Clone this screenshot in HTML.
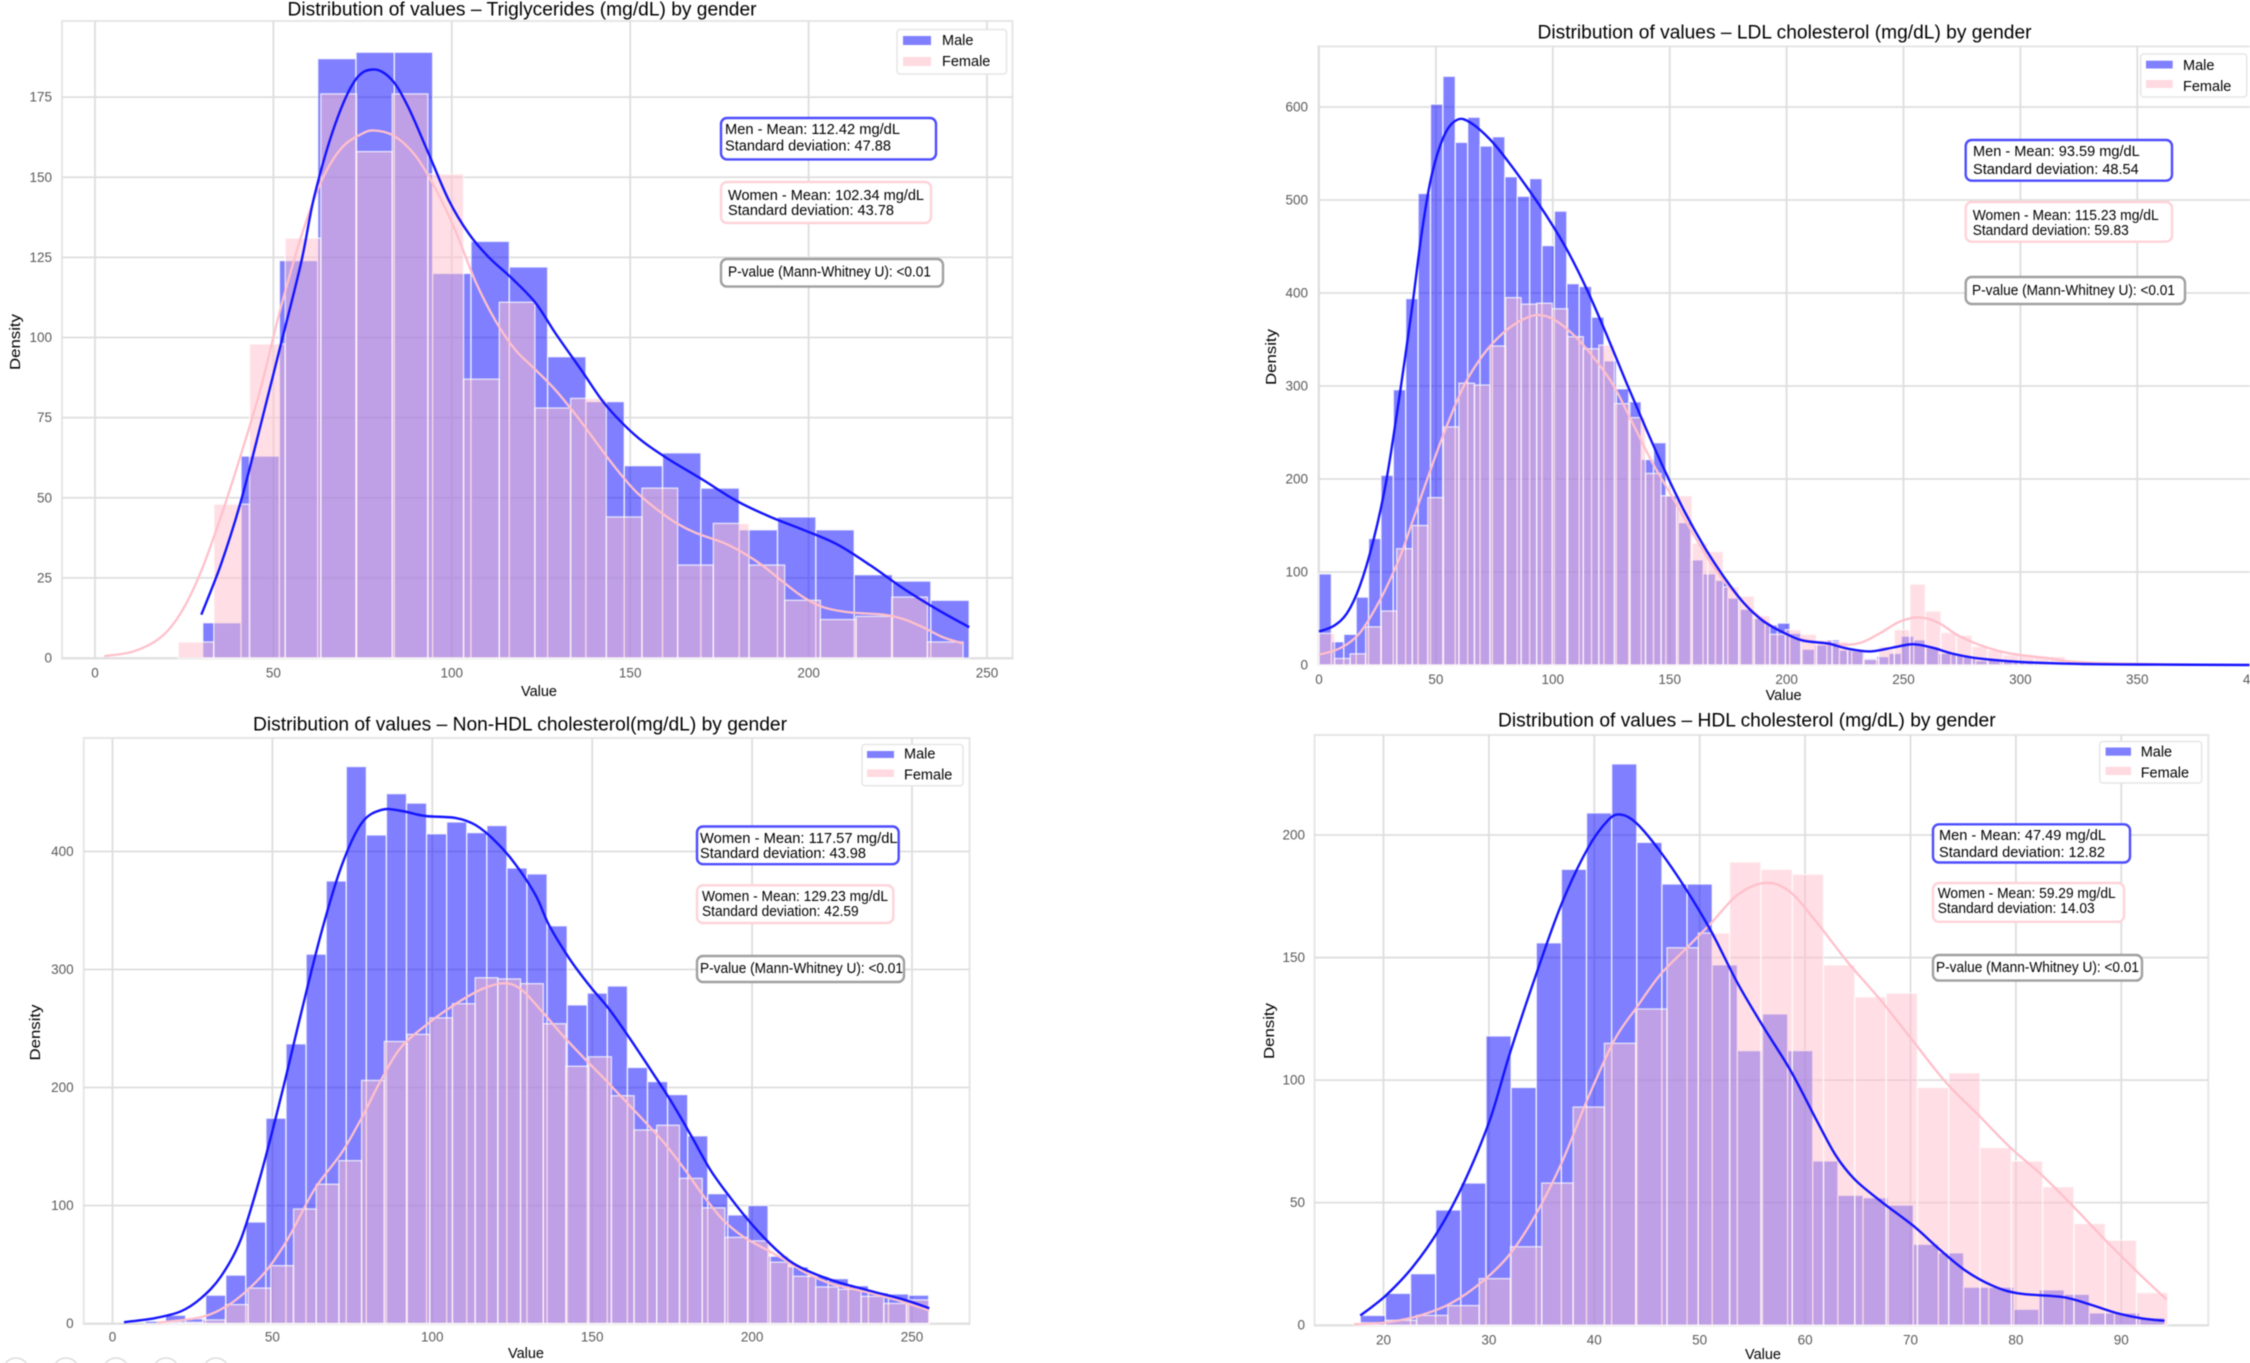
<!DOCTYPE html>
<html lang="en">
<head>
<meta charset="utf-8">
<title>Distribution of lipid values by gender</title>
<style>
html,body{margin:0;padding:0;background:#fff;width:2250px;height:1363px;overflow:hidden}
svg{display:block;filter:blur(.65px)}
text{font-family:"Liberation Sans",Arial,sans-serif;fill:#000;dominant-baseline:central}
text[y]:not(.tick){transform:translateY(1.2px)}
.title{font-size:19px;text-anchor:middle}
.axl{font-size:14.5px;text-anchor:middle}
.leg{font-size:14.5px}
.note{font-size:14.5px}
.tick{font-size:13.5px;fill:#595959}
.legbox{fill:#fff;stroke:#e6e6e6;stroke-width:1.5}
.sw-m{fill:#8080ff}
.sw-f{fill:#ffdbe1}
.b-m{fill:#fff;stroke:#4c4cff;stroke-width:2.4}
.b-f{fill:#fff;stroke:#ffd3da;stroke-width:2.4}
.b-p{fill:#fff;stroke:#a0a0a0;stroke-width:2.4}
</style>
</head>
<body>
<svg xmlns="http://www.w3.org/2000/svg" width="2250" height="1363" viewBox="0 0 2250 1363">
<rect width="2250" height="1363" fill="#fff"/>

<g>
  <g id="p1"></g>
  <text class="title" x="522" y="9" textLength="469" lengthAdjust="spacingAndGlyphs">Distribution of values – Triglycerides (mg/dL) by gender</text>
  <text class="axl" x="539" y="691">Value</text>
  <text class="axl" transform="translate(16 342) rotate(-90)" textLength="56" lengthAdjust="spacingAndGlyphs">Density</text>
  <g>
    <rect class="legbox" x="897" y="29.5" width="109.5" height="44.5" rx="3"/>
    <rect class="sw-m" x="903" y="36" width="28" height="9"/>
    <rect class="sw-f" x="903" y="57" width="28" height="9"/>
    <text class="leg" x="942" y="40">Male</text>
    <text class="leg" x="942" y="61">Female</text>
  </g>
  <rect class="b-m" x="721" y="118" width="215" height="41.4" rx="6"/>
  <text class="note" x="725" y="128.6" textLength="175" lengthAdjust="spacingAndGlyphs">Men - Mean: 112.42 mg/dL</text>
  <text class="note" x="725" y="145.5" textLength="166" lengthAdjust="spacingAndGlyphs">Standard deviation: 47.88</text>
  <rect class="b-f" x="721" y="182" width="210" height="41" rx="6"/>
  <text class="note" x="728" y="194.6" textLength="196" lengthAdjust="spacingAndGlyphs">Women - Mean: 102.34 mg/dL</text>
  <text class="note" x="728" y="210" textLength="166" lengthAdjust="spacingAndGlyphs">Standard deviation: 43.78</text>
  <rect class="b-p" x="721" y="259" width="222" height="27.6" rx="6"/>
  <text class="note" x="728" y="271.4" textLength="203" lengthAdjust="spacingAndGlyphs">P-value (Mann-Whitney U): &lt;0.01</text>
</g>

<g>
  <g id="p2"></g>
  <text class="title" x="1784.5" y="32" textLength="494" lengthAdjust="spacingAndGlyphs">Distribution of values – LDL cholesterol (mg/dL) by gender</text>
  <text class="axl" x="1783.6" y="695">Value</text>
  <text class="axl" transform="translate(1272 357) rotate(-90)" textLength="56" lengthAdjust="spacingAndGlyphs">Density</text>
  <g>
    <rect class="legbox" x="2140.7" y="54" width="106" height="43" rx="3"/>
    <rect class="sw-m" x="2146" y="60.7" width="26.7" height="7.8"/>
    <rect class="sw-f" x="2146" y="80" width="26.7" height="8"/>
    <text class="leg" x="2183" y="64.7">Male</text>
    <text class="leg" x="2183" y="85.7">Female</text>
  </g>
  <rect class="b-m" x="1965.7" y="140" width="206.3" height="40.7" rx="6"/>
  <text class="note" x="1973" y="151" textLength="166.7" lengthAdjust="spacingAndGlyphs">Men - Mean: 93.59 mg/dL</text>
  <text class="note" x="1973" y="169" textLength="165.7" lengthAdjust="spacingAndGlyphs">Standard deviation: 48.54</text>
  <rect class="b-f" x="1965.7" y="202" width="206.3" height="39.7" rx="6"/>
  <text class="note" x="1972.7" y="214.7" textLength="186" lengthAdjust="spacingAndGlyphs">Women - Mean: 115.23 mg/dL</text>
  <text class="note" x="1972.7" y="230" textLength="156" lengthAdjust="spacingAndGlyphs">Standard deviation: 59.83</text>
  <rect class="b-p" x="1965.7" y="277" width="219.3" height="27" rx="6"/>
  <text class="note" x="1972" y="290" textLength="203" lengthAdjust="spacingAndGlyphs">P-value (Mann-Whitney U): &lt;0.01</text>
</g>

<g>
  <g id="p3"></g>
  <text class="title" x="520" y="724" textLength="534" lengthAdjust="spacingAndGlyphs">Distribution of values – Non-HDL cholesterol(mg/dL) by gender</text>
  <text class="axl" x="526" y="1353">Value</text>
  <text class="axl" transform="translate(36 1032.5) rotate(-90)" textLength="56" lengthAdjust="spacingAndGlyphs">Density</text>
  <g>
    <rect class="legbox" x="862" y="744.5" width="101" height="41.2" rx="3"/>
    <rect class="sw-m" x="867" y="751" width="27" height="7"/>
    <rect class="sw-f" x="867" y="769.4" width="27" height="7.6"/>
    <text class="leg" x="904" y="753.5">Male</text>
    <text class="leg" x="904" y="774.5">Female</text>
  </g>
  <rect class="b-m" x="697" y="826.5" width="201.7" height="37.7" rx="6"/>
  <text class="note" x="700" y="837.6" textLength="197.6" lengthAdjust="spacingAndGlyphs">Women - Mean: 117.57 mg/dL</text>
  <text class="note" x="700" y="853" textLength="166" lengthAdjust="spacingAndGlyphs">Standard deviation: 43.98</text>
  <rect class="b-f" x="697" y="885.3" width="196.3" height="37.7" rx="6"/>
  <text class="note" x="702" y="896" textLength="186" lengthAdjust="spacingAndGlyphs">Women - Mean: 129.23 mg/dL</text>
  <text class="note" x="702" y="911" textLength="156.7" lengthAdjust="spacingAndGlyphs">Standard deviation: 42.59</text>
  <rect class="b-p" x="697" y="956" width="207" height="26" rx="6"/>
  <text class="note" x="700" y="968" textLength="203" lengthAdjust="spacingAndGlyphs">P-value (Mann-Whitney U): &lt;0.01</text>
</g>

<g>
  <g id="p4"></g>
  <text class="title" x="1746.8" y="720" textLength="497.6" lengthAdjust="spacingAndGlyphs">Distribution of values – HDL cholesterol (mg/dL) by gender</text>
  <text class="axl" x="1763" y="1354">Value</text>
  <text class="axl" transform="translate(1270 1031) rotate(-90)" textLength="56" lengthAdjust="spacingAndGlyphs">Density</text>
  <g>
    <rect class="legbox" x="2099.7" y="741.5" width="102" height="41.5" rx="3"/>
    <rect class="sw-m" x="2105.6" y="747.5" width="25.4" height="8.2"/>
    <rect class="sw-f" x="2105.6" y="766.8" width="25.4" height="8.2"/>
    <text class="leg" x="2140.7" y="751.4">Male</text>
    <text class="leg" x="2140.7" y="772.4">Female</text>
  </g>
  <rect class="b-m" x="1933" y="824.3" width="197" height="38.2" rx="6"/>
  <text class="note" x="1939" y="834.6" textLength="167" lengthAdjust="spacingAndGlyphs">Men - Mean: 47.49 mg/dL</text>
  <text class="note" x="1939" y="851.8" textLength="166" lengthAdjust="spacingAndGlyphs">Standard deviation: 12.82</text>
  <rect class="b-f" x="1933" y="883" width="191" height="38.8" rx="6"/>
  <text class="note" x="1937.7" y="892.6" textLength="178" lengthAdjust="spacingAndGlyphs">Women - Mean: 59.29 mg/dL</text>
  <text class="note" x="1937.7" y="907.6" textLength="157" lengthAdjust="spacingAndGlyphs">Standard deviation: 14.03</text>
  <rect class="b-p" x="1933" y="955" width="209" height="25.6" rx="6"/>
  <text class="note" x="1936" y="966.8" textLength="203" lengthAdjust="spacingAndGlyphs">P-value (Mann-Whitney U): &lt;0.01</text>
</g>

<g fill="none" stroke="#dcdcdc" stroke-width="1.5">
  <circle cx="16" cy="1371" r="13"/>
  <circle cx="66" cy="1371" r="13"/>
  <circle cx="116" cy="1371" r="13"/>
  <circle cx="166" cy="1371" r="13"/>
  <circle cx="216" cy="1371" r="13"/>
</g>
</svg>

<script>
// ---------- Triglycerides ----------
var tgXTicks = [0, 50, 100, 150, 200, 250];
var tgYTicks = [0, 25, 50, 75, 100, 125, 150, 175];
var tgMaleCounts = [11, 63, 124, 187, 189, 189, 120, 130, 122, 94, 80, 60, 64, 53, 40, 44, 40, 26, 24, 18];
var tgFemaleCounts = [5, 48, 98, 131, 176, 158, 176, 151, 87, 111, 78, 81, 44, 53, 29, 42, 29, 18, 12, 13, 19, 5];
var tgMaleKdeX = [29.8, 35.3, 40.9, 46.5, 52.2, 57.8, 61.5, 67.2, 72.8, 77.9, 83.1, 87.8, 93.4, 99.1, 104.7, 110.3, 116.9, 123.5, 129.1, 136.6, 142.2, 147.8, 153.5, 161, 170.4, 179.7, 189.1, 198.5, 207.9, 217.3, 226.6, 236, 245];
var tgMaleKdeY = [13.5, 28.5, 48, 73, 98, 125, 143, 168, 182, 184.6, 181.4, 173, 157.7, 142, 132, 125, 118.6, 111, 102, 88.5, 80, 73, 67.6, 62, 55.7, 48.7, 44, 40, 36, 29, 21.5, 15, 9.6];
var tgFemaleKdeX = [2.6, 10.9, 18.4, 24, 29.6, 35.3, 40.9, 46.5, 52.2, 57.8, 63.4, 69, 74.7, 78.4, 84, 89.7, 95.3, 100.9, 106.6, 112.2, 117.8, 123.5, 129, 134.7, 140.3, 146, 151.6, 157.2, 162.9, 168.5, 176, 181.6, 187.2, 192.9, 198.5, 204.1, 211.6, 221, 226.6, 232.3, 237.9, 243.5];
var tgFemaleKdeY = [0.6, 1.5, 6, 13, 25.7, 44, 63.4, 83, 111, 132, 150, 160, 164, 165, 163.5, 157.7, 147, 134.6, 116.5, 105, 95.5, 90, 84, 76, 67.6, 59, 51.5, 46.6, 41.8, 39, 36, 33, 29, 23.6, 18.7, 15.6, 14, 13.7, 12.4, 9.6, 6, 4.5];

// ---------- LDL ----------
var ldlXTicks = [0, 50, 100, 150, 200, 250, 300, 350, 400];
var ldlYTicks = [0, 100, 200, 300, 400, 500, 600];
var ldlMaleCounts = [98, 25, 33, 73, 136, 204, 296, 394, 507, 603, 633, 562, 589, 558, 568, 525, 504, 523, 451, 488, 410, 407, 374, 327, 297, 283, 221, 239, 182, 153, 113, 98, 91, 72, 60, 50, 43, 45, 34, 17, 21.5, 27, 16, 15, 7, 9, 12.5, 31, 27, 18.6, 12.5, 11.5, 9, 4.6, 6, 5.4, 3.6, 3, 2.5, 2, 1.5, 1.2, 1];
var ldlFemaleCounts = [34, 7, 12, 41, 58, 125, 150, 180, 256, 303, 301, 343, 395, 388, 389, 383, 353, 340, 344, 281, 266, 206, 182, 182, 131, 122, 84, 74, 53, 33, 38, 33, 27, 25, 16, 6, 20, 38, 87, 58, 35, 32, 20, 16, 11, 11, 9, 9, 5, 3, 2.5, 2, 1.5, 1, 0.8, 0.6, 0.5, 0.5, 0.5, 0.4];
var ldlMaleKdeX = [0, 6.4, 12, 17.5, 23.1, 28.7, 34.2, 39.8, 43.9, 48.1, 53.7, 59.2, 64.8, 73.2, 81.5, 89.8, 98.2, 106.5, 114.9, 123.2, 131.6, 139.9, 148.3, 156.6, 165, 173.3, 181.7, 190, 198.4, 206.7, 217.8, 226.2, 235.9, 245.6, 254, 262.3, 270.7, 281.8, 299.9, 323.5, 351.3, 398];
var ldlMaleKdeY = [36, 41, 53, 82, 130, 192, 283, 389, 466, 528, 576, 589, 586, 566, 540, 511, 480, 446, 403, 355, 302, 254, 206, 163, 125, 94, 65, 46, 35, 25, 24, 17, 13, 19, 24, 19, 12, 7, 3, 1, 0.5, 0];
var ldlFemaleKdeX = [0, 9.2, 17.5, 25.9, 34.2, 39.8, 45.3, 53.7, 62, 70.4, 78.7, 87, 94, 100.9, 109.3, 117.6, 126, 134.3, 142.6, 151, 159.3, 167.7, 176, 184.4, 192.7, 201, 212.2, 223.3, 231.6, 240, 248.3, 256.7, 265, 273.4, 284.5, 295.7, 312.3, 323.5, 351.3, 398];
var ldlFemaleKdeY = [11, 17, 31, 67, 115, 154, 187, 254, 303, 336, 358, 373, 378, 373, 355, 331, 303, 259, 216, 182, 144, 108, 81, 60, 43, 31, 24, 21, 22, 34, 48, 53, 47, 31, 19, 12, 7, 3, 1, 0];

// ---------- Non-HDL ----------
var nhXTicks = [0, 50, 100, 150, 200, 250];
var nhYTicks = [0, 100, 200, 300, 400];
var nhMaleCounts = [2, 7, 4, 24, 41, 86, 174, 237, 313, 375, 472, 414, 449, 441, 415, 425, 416, 422, 386, 381, 337, 270, 280, 286, 217, 205, 194, 159, 110, 92, 100, 57, 48, 40, 38, 32, 26, 25, 24];
var nhFemaleCounts = [1, 1, 3, 16, 30, 49, 97, 118, 138, 206, 239, 245, 259, 271, 293, 292, 288, 254, 218, 226, 193, 164, 168, 123, 98, 73, 70, 52, 40, 31, 29, 23, 17, 20];
var nhMaleKdeX = [3.6, 13, 21.4, 27.6, 33.9, 40.2, 46.4, 52.7, 59, 65.3, 71.6, 77.9, 84.2, 90.4, 97.8, 107.2, 113.5, 119.8, 126, 132.3, 136.5, 142.8, 149.1, 155.4, 161.7, 168, 174.2, 180.5, 186.8, 193.1, 199.4, 205.7, 212, 218.2, 226.6, 237.1, 247.6, 255.4];
var nhMaleKdeY = [1.1, 4, 9.5, 20, 38, 67, 125, 191, 264, 333, 391, 429, 437, 435, 429, 429.5, 424, 409, 391, 362, 339, 308, 286, 267, 242, 216, 191, 162, 129, 107, 85, 67, 51, 44, 35, 27.6, 20, 13];
var nhFemaleKdeX = [14, 27.6, 36, 42.3, 48.6, 54.9, 63.2, 71.6, 77.9, 84.2, 90.4, 98.8, 107.2, 115.6, 122.9, 128.1, 134.4, 140.7, 147, 153.3, 159.5, 165.8, 172.1, 178.4, 184.7, 191, 197.2, 203.5, 209.8, 216.1, 224.5, 234.9, 245.4, 255.4];
var nhFemaleKdeY = [0.7, 4, 15, 27.6, 46, 67, 118, 144, 173, 209, 236, 255, 271, 285, 290, 285, 264, 244, 226, 209, 191, 173, 155, 133, 108, 86, 73, 64, 55, 44, 33, 27.6, 20, 11];

// ---------- HDL ----------
var hdlXTicks = [20, 30, 40, 50, 60, 70, 80, 90];
var hdlYTicks = [0, 50, 100, 150, 200];
var hdlMaleCounts = [4, 13, 21, 47, 58, 118, 97, 156, 186, 209, 229, 197, 180, 180, 147, 112, 127, 112, 67, 53, 52, 49, 33, 29.5, 15.5, 15.5, 6.5, 14.4, 12.6, 5, 5, 3];
var hdlFemaleCounts = [1, 2, 4, 8, 19, 32, 58, 89, 115, 129, 154, 160, 189, 186, 184, 147, 134, 135.5, 97, 103, 72.5, 67, 56.5, 41.5, 34.7, 13.3];
var hdlMaleKdeX = [17.8, 20.2, 22.7, 25.2, 27.7, 30.1, 32, 34.5, 36.9, 39.4, 41.3, 42.5, 44, 46.2, 48.6, 51.1, 53.6, 56.1, 58.6, 61, 62.9, 64.7, 67.2, 70.3, 72.8, 75.2, 77.7, 80.2, 84.4, 86.9, 89.5, 91.9, 94.1];
var hdlMaleKdeY = [3.9, 11.4, 22.8, 37.6, 57.8, 84, 109.5, 144.5, 172.5, 197, 207.5, 209, 206.5, 194, 179, 161.5, 138.7, 121, 105.1, 83.2, 68.3, 59.5, 50.8, 40.3, 30.6, 21.9, 15.8, 12.6, 11.9, 8.8, 4.7, 2.6, 1.8];
var hdlFemaleKdeX = [17.2, 20.2, 23.3, 26.4, 29.5, 32, 34.4, 36.9, 39.4, 41.9, 44, 46.2, 48.6, 51.1, 53.6, 56.2, 58.5, 61, 64.1, 67.2, 70.3, 73.4, 76.5, 79.5, 82.6, 85.7, 88.8, 91.9, 94.3];
var hdlFemaleKdeY = [0.4, 0.7, 3.5, 7.9, 18.4, 28, 44, 65, 93, 119, 128.7, 143.6, 153, 163.7, 177, 181.8, 178.6, 166, 147, 133, 115.6, 98, 85.8, 71.8, 61.3, 47.3, 33.3, 19.3, 10.5];

var NS = 'http://www.w3.org/2000/svg';

function shape(tag, attrs) {
  var el = document.createElementNS(NS, tag);
  for (var k in attrs) { el.setAttribute(k, attrs[k]); }
  return el;
}

function smoothPath(xs, ys, sx, sy) {
  var raw = xs.map(function (v, i) { return [sx(v), sy(ys[i])]; });
  // Light neighbour averaging removes hand-reading jitter from the curve.
  var p = raw.map(function (q, i) {
    if (i === 0 || i === raw.length - 1) { return q; }
    return [q[0], (raw[i - 1][1] + 4 * q[1] + raw[i + 1][1]) / 6];
  });
  var d = 'M' + p[0][0].toFixed(1) + ' ' + p[0][1].toFixed(1);
  for (var i = 0; i < p.length - 1; i++) {
    var a = p[Math.max(i - 1, 0)], b = p[i], c = p[i + 1], e = p[Math.min(i + 2, p.length - 1)];
    d += 'C' + (b[0] + (c[0] - a[0]) / 6).toFixed(1) + ' ' + (b[1] + (c[1] - a[1]) / 6).toFixed(1) +
         ' ' + (c[0] - (e[0] - b[0]) / 6).toFixed(1) + ' ' + (c[1] - (e[1] - b[1]) / 6).toFixed(1) +
         ' ' + c[0].toFixed(1) + ' ' + c[1].toFixed(1);
  }
  return d;
}

function drawPanel(o) {
  var host = document.getElementById(o.id);
  var sx = function (v) { return o.x0 + (v - o.xRef) * o.xk; };
  var sy = function (v) { return o.y0 - v * o.yk; };

  var frame = shape('rect', { x: o.left, y: o.top, width: o.right - o.left, height: o.bottom - o.top, fill: '#fff', stroke: '#e6e6e6', 'stroke-width': 2 });
  
  
  host.appendChild(frame);

  o.xTicks.forEach(function (t) {
    var gl = shape('line', { x1: sx(t), x2: sx(t), y1: o.top, y2: o.bottom, stroke: '#dedede', 'stroke-width': 1.8 });
    
    
    host.appendChild(gl);
    var lb = shape('text', { x: sx(t), y: o.xLabelY, 'class': 'tick', 'text-anchor': 'middle' });
    
    
    lb.textContent = t;
    host.appendChild(lb);
  });

  o.yTicks.forEach(function (t) {
    var gl = shape('line', { x1: o.left, x2: o.right, y1: sy(t), y2: sy(t), stroke: '#dedede', 'stroke-width': 1.8 });
    
    
    host.appendChild(gl);
    var lb = shape('text', { x: o.yLabelX, y: sy(t), 'class': 'tick', 'text-anchor': 'end' });
    
    
    lb.textContent = t;
    host.appendChild(lb);
  });

  o.maleCounts.forEach(function (c, i) {
    var a = o.maleStart + i * o.maleWidth;
    var bar = shape('rect', { x: sx(a), y: sy(c), width: o.maleWidth * o.xk, height: c * o.yk, fill: '#0000ff', 'fill-opacity': 0.5, stroke: '#fff', 'stroke-opacity': 0.75, 'stroke-width': 1.4 });
    
    
    host.appendChild(bar);
  });

  o.femaleCounts.forEach(function (c, i) {
    var a = o.femaleStart + i * o.femaleWidth;
    var bar = shape('rect', { x: sx(a), y: sy(c), width: o.femaleWidth * o.xk, height: c * o.yk, fill: '#ffc0cb', 'fill-opacity': 0.5, stroke: '#fff', 'stroke-opacity': 0.7, 'stroke-width': 1.4 });
    
    
    host.appendChild(bar);
  });

  var fk = shape('path', { d: smoothPath(o.femaleKdeX, o.femaleKdeY, sx, sy), fill: 'none', stroke: '#ffc0cb', 'stroke-width': 2.3 });
  
  
  host.appendChild(fk);

  var mk = shape('path', { d: smoothPath(o.maleKdeX, o.maleKdeY, sx, sy), fill: 'none', stroke: '#1414ff', 'stroke-width': 2.4 });
  
  
  host.appendChild(mk);
}

drawPanel({
  id: 'p1', left: 62, right: 1012.5, top: 21, bottom: 658.5,
  x0: 95, xRef: 0, xk: 3.568, y0: 658, yk: 3.205, xLabelY: 673, yLabelX: 52,
  xTicks: tgXTicks, yTicks: tgYTicks,
  maleCounts: tgMaleCounts, maleStart: 30.2, maleWidth: 10.74,
  femaleCounts: tgFemaleCounts, femaleStart: 23.3, femaleWidth: 10.0,
  maleKdeX: tgMaleKdeX, maleKdeY: tgMaleKdeY, femaleKdeX: tgFemaleKdeX, femaleKdeY: tgFemaleKdeY
});

drawPanel({
  id: 'p2', left: 1318.5, right: 2262, top: 46.4, bottom: 665,
  x0: 1319, xRef: 0, xk: 2.338, y0: 665, yk: 0.93, xLabelY: 679.5, yLabelX: 1308,
  xTicks: ldlXTicks, yTicks: ldlYTicks,
  maleCounts: ldlMaleCounts, maleStart: 0, maleWidth: 5.3,
  femaleCounts: ldlFemaleCounts, femaleStart: 0, femaleWidth: 6.65,
  maleKdeX: ldlMaleKdeX, maleKdeY: ldlMaleKdeY, femaleKdeX: ldlFemaleKdeX, femaleKdeY: ldlFemaleKdeY
});

drawPanel({
  id: 'p3', left: 83.7, right: 969.6, top: 738, bottom: 1324,
  x0: 112.5, xRef: 0, xk: 3.198, y0: 1323.5, yk: 1.18, xLabelY: 1337, yLabelX: 73.7,
  xTicks: nhXTicks, yTicks: nhYTicks,
  maleCounts: nhMaleCounts, maleStart: 10.3, maleWidth: 6.28,
  femaleCounts: nhFemaleCounts, femaleStart: 14, femaleWidth: 7.1,
  maleKdeX: nhMaleKdeX, maleKdeY: nhMaleKdeY, femaleKdeX: nhFemaleKdeX, femaleKdeY: nhFemaleKdeY
});

drawPanel({
  id: 'p4', left: 1314.6, right: 2208.3, top: 735, bottom: 1325.6,
  x0: 1383.5, xRef: 20, xk: 10.54, y0: 1325.2, yk: 2.451, xLabelY: 1340, yLabelX: 1305,
  xTicks: hdlXTicks, yTicks: hdlYTicks,
  maleCounts: hdlMaleCounts, maleStart: 17.8, maleWidth: 2.385,
  femaleCounts: hdlFemaleCounts, femaleStart: 17.2, femaleWidth: 2.97,
  maleKdeX: hdlMaleKdeX, maleKdeY: hdlMaleKdeY, femaleKdeX: hdlFemaleKdeX, femaleKdeY: hdlFemaleKdeY
});
</script>
</body>
</html>
